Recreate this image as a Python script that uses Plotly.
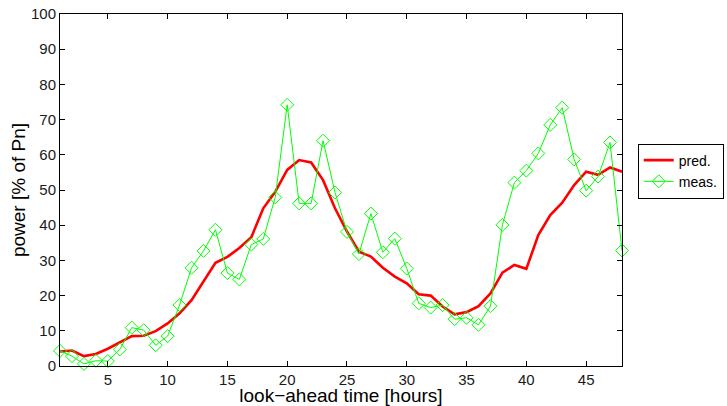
import plotly.graph_objects as go

hours = list(range(1, 49))
pred = [4.1, 4.4, 2.8, 3.4, 4.9, 6.7, 8.5, 8.6, 9.9, 12.1, 15.0, 18.7, 24.0, 29.3, 31.0, 33.5,
        36.6, 44.8, 49.5, 55.7, 58.5, 57.8, 52.8, 44.8, 38.2, 32.5, 31.1, 27.9, 25.4, 23.5,
        20.4, 20.0, 16.9, 14.7, 15.3, 17.0, 20.6, 26.5, 28.7, 27.6, 37.2, 42.9, 46.4, 51.4,
        55.2, 54.3, 56.4, 55.2]
meas = [4.3, 2.8, 0.6, 1.5, 1.4, 4.7, 10.9, 10.2, 5.9, 8.5, 17.3, 27.9, 32.7, 38.7, 26.4, 24.6,
        34.5, 36.1, 47.9, 74.2, 46.2, 46.2, 64.0, 49.3, 38.1, 31.8, 43.3, 32.3, 36.2, 27.7,
        17.8, 16.6, 17.3, 13.3, 13.7, 11.7, 17.0, 40.1, 52.1, 55.5, 60.4, 68.5, 73.4, 58.7,
        49.8, 53.8, 63.5, 32.8]
x_ticks = [5, 10, 15, 20, 25, 30, 35, 40, 45]
y_ticks = [0, 10, 20, 30, 40, 50, 60, 70, 80, 90, 100]

fig = go.Figure()
fig.add_trace(go.Scatter(x=hours, y=pred, mode="lines", name="pred.",
                         line=dict(color="#ff0000", width=2.6)))
fig.add_trace(go.Scatter(x=hours, y=meas, mode="lines+markers", name="meas.",
                         line=dict(color="#00ff00", width=1),
                         marker=dict(symbol="diamond-open", size=10,
                                     color="#00ff00", line=dict(color="#00ff00", width=1)),
                         cliponaxis=False))

font_family = "Liberation Sans, Arial, sans-serif"
fig.update_layout(
    width=727, height=406,
    margin=dict(l=60, r=105, t=14, b=40, autoexpand=False),
    paper_bgcolor="white", plot_bgcolor="white",
    font=dict(family=font_family, size=14, color="#000000"),
    showlegend=True,
    legend=dict(x=1.028, y=0.632, xanchor="left", yanchor="top",
                bordercolor="#000000", borderwidth=1, bgcolor="white",
                font=dict(size=14), tracegroupgap=0, itemwidth=30),
    xaxis=dict(range=[1, 48], tickvals=x_ticks, ticks="inside", ticklen=5,
               tickcolor="#000000", showline=True, linecolor="#000000", linewidth=1,
               mirror="ticks", showgrid=False, zeroline=False, automargin=True,
               title=dict(text="look\u2212ahead time [hours]", font=dict(size=19), standoff=6),
               tickfont=dict(size=15, color="#1a1a1a")),
    yaxis=dict(range=[0, 100], tickvals=y_ticks, ticks="inside", ticklen=5,
               tickcolor="#000000", showline=True, linecolor="#000000", linewidth=1,
               mirror="ticks", showgrid=False, zeroline=False, automargin=True,
               title=dict(text="power [% of Pn]", font=dict(size=19), standoff=0),
               tickfont=dict(size=15, color="#1a1a1a")),
)

fig.write_html("out.html", config={"displayModeBar": False},
               post_script="document.body.style.margin='0';document.body.style.overflow='hidden';")
